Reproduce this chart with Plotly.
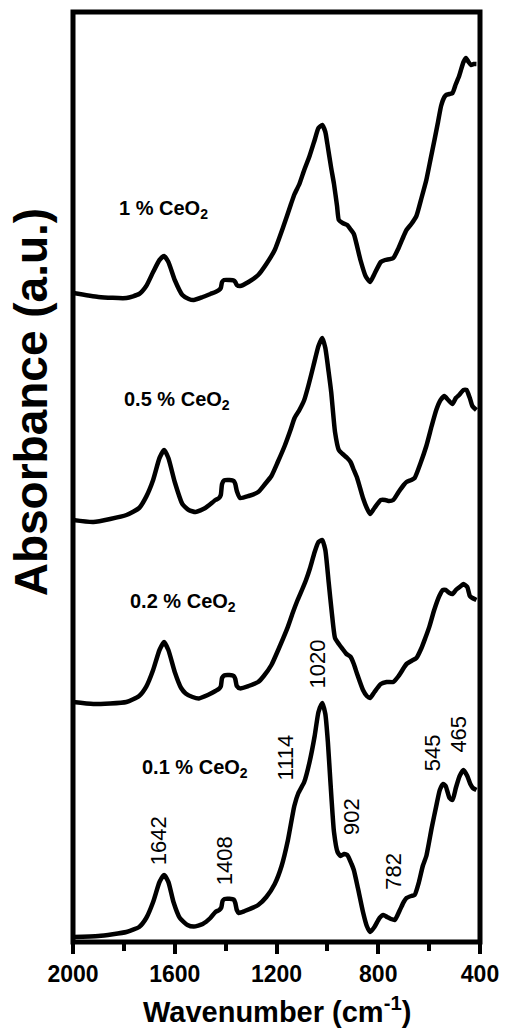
import plotly.graph_objects as go

# FTIR spectra of CeO2-doped samples, stacked vertically (absorbance in a.u.)
wn_01 = [2000, 1900, 1790, 1740, 1712, 1685, 1660, 1642, 1625, 1605, 1580, 1550, 1525, 1490,
         1460, 1440, 1425, 1417, 1412, 1404, 1385, 1368, 1362, 1356, 1348, 1325, 1272, 1240,
         1207, 1180, 1155, 1130, 1114, 1091, 1070, 1050, 1035, 1020, 1008, 998, 988, 974, 960,
         948, 935, 922, 905, 896, 880, 860, 845, 832, 815, 795, 780, 765, 750, 735, 715, 700,
         689, 670, 657, 640, 625, 611, 590, 572, 558, 545, 535, 520, 508, 495, 480, 465, 450,
         438, 428, 414]
abs_01 = [0.025, 0.03, 0.05, 0.075, 0.12, 0.2, 0.3, 0.335, 0.3, 0.2, 0.12, 0.085, 0.077, 0.09,
          0.12, 0.15, 0.16, 0.172, 0.205, 0.215, 0.216, 0.212, 0.195, 0.16, 0.145, 0.155, 0.185,
          0.225, 0.29, 0.38, 0.51, 0.68, 0.745, 0.80, 0.9, 1.03, 1.15, 1.195, 1.14, 1.0, 0.8,
          0.55, 0.45, 0.43, 0.44, 0.435, 0.39, 0.36, 0.27, 0.15, 0.08, 0.05, 0.075, 0.12, 0.135,
          0.125, 0.115, 0.11, 0.16, 0.2, 0.22, 0.23, 0.235, 0.3, 0.38, 0.43, 0.57, 0.68, 0.76,
          0.79, 0.78, 0.72, 0.71, 0.77, 0.83, 0.86, 0.83, 0.79, 0.77, 0.76]

wn_02 = [2000, 1920, 1790, 1740, 1712, 1685, 1660, 1642, 1625, 1600, 1575, 1557, 1530, 1505,
         1470, 1440, 1427, 1419, 1414, 1406, 1385, 1368, 1362, 1356, 1343, 1310, 1272, 1250,
         1220, 1190, 1155, 1135, 1117, 1100, 1084, 1068, 1050, 1035, 1020, 1008, 995, 982, 970,
         955, 940, 925, 909, 896, 883, 860, 845, 832, 815, 790, 767, 741, 720, 700, 689, 670,
         650, 630, 615, 599, 580, 560, 546, 535, 520, 508, 495, 475, 465, 450, 440, 430, 414]
abs_02 = [1.20, 1.19, 1.20, 1.23, 1.277, 1.36, 1.46, 1.50, 1.46, 1.35, 1.27, 1.243, 1.225, 1.218,
          1.235, 1.255, 1.265, 1.278, 1.32, 1.333, 1.335, 1.33, 1.315, 1.28, 1.268, 1.28, 1.30,
          1.33, 1.385, 1.47, 1.577, 1.65, 1.71, 1.76, 1.81, 1.87, 1.95, 2.0, 2.01, 1.96, 1.8,
          1.64, 1.52, 1.49, 1.465, 1.44, 1.426, 1.39, 1.34, 1.26, 1.23, 1.22, 1.25, 1.29, 1.30,
          1.30, 1.33, 1.37, 1.39, 1.405, 1.42, 1.47, 1.52, 1.577, 1.66, 1.73, 1.76, 1.76, 1.745,
          1.74, 1.76, 1.78, 1.79, 1.775, 1.73, 1.72, 1.71]

wn_05 = [2000, 1920, 1790, 1740, 1712, 1685, 1660, 1642, 1625, 1600, 1570, 1545, 1518, 1480,
         1440, 1426, 1419, 1414, 1406, 1385, 1368, 1362, 1356, 1343, 1310, 1272, 1245, 1220,
         1195, 1168, 1145, 1129, 1110, 1091, 1075, 1055, 1035, 1020, 1008, 995, 985, 970, 955,
         940, 922, 909, 896, 883, 860, 845, 832, 815, 790, 773, 760, 741, 720, 700, 689, 670,
         657, 635, 611, 590, 572, 555, 540, 525, 508, 495, 482, 465, 453, 440, 430, 414]
abs_05 = [2.11, 2.10, 2.135, 2.17, 2.227, 2.31, 2.42, 2.46, 2.42, 2.3, 2.19, 2.16, 2.15, 2.17,
          2.21, 2.22, 2.235, 2.29, 2.308, 2.31, 2.305, 2.29, 2.255, 2.22, 2.23, 2.25, 2.29, 2.33,
          2.4, 2.48, 2.56, 2.62, 2.66, 2.71, 2.78, 2.88, 2.98, 3.02, 2.97, 2.85, 2.75, 2.55, 2.46,
          2.44, 2.42, 2.40, 2.36, 2.32, 2.22, 2.17, 2.14, 2.17, 2.21, 2.21, 2.205, 2.21, 2.25,
          2.285, 2.30, 2.31, 2.32, 2.39, 2.48, 2.58, 2.66, 2.71, 2.73, 2.71, 2.69, 2.72, 2.735,
          2.76, 2.76, 2.72, 2.68, 2.66]

wn_1 = [2000, 1900, 1790, 1740, 1712, 1685, 1660, 1642, 1625, 1600, 1570, 1545, 1525, 1490,
        1460, 1440, 1426, 1419, 1414, 1406, 1385, 1368, 1362, 1356, 1343, 1310, 1272, 1240,
        1207, 1175, 1143, 1129, 1110, 1091, 1070, 1050, 1035, 1020, 1008, 1000, 985, 974, 962,
        955, 940, 922, 910, 896, 870, 850, 832, 815, 790, 773, 741, 720, 700, 689, 670, 650,
        630, 611, 595, 579, 565, 553, 540, 533, 520, 508, 495, 482, 465, 455, 445, 435, 425, 414]
abs_1 = [3.245, 3.225, 3.22, 3.24, 3.28, 3.35, 3.41, 3.43, 3.40, 3.31, 3.235, 3.215, 3.21, 3.225,
         3.24, 3.25, 3.26, 3.27, 3.30, 3.31, 3.31, 3.308, 3.30, 3.285, 3.28, 3.30, 3.335, 3.39,
         3.46, 3.57, 3.69, 3.74, 3.79, 3.86, 3.93, 4.01, 4.07, 4.085, 4.05, 3.99, 3.87, 3.79,
         3.68, 3.61, 3.595, 3.585, 3.565, 3.54, 3.41, 3.33, 3.30, 3.34, 3.40, 3.41, 3.42, 3.47,
         3.53, 3.56, 3.59, 3.63, 3.72, 3.81, 3.91, 4.01, 4.10, 4.18, 4.225, 4.235, 4.24, 4.245,
         4.29, 4.33, 4.40, 4.42, 4.40, 4.385, 4.39, 4.39]

series_names = ["0.1 % CeO<sub>2</sub>", "0.2 % CeO<sub>2</sub>",
                "0.5 % CeO<sub>2</sub>", "1 % CeO<sub>2</sub>"]
series_wn = [wn_01, wn_02, wn_05, wn_1]
series_abs = [abs_01, abs_02, abs_05, abs_1]

# where each sample name sits (left edge, vertical middle), in data units
name_pos = [(1738, 0.87), (1785, 1.70), (1808, 2.71), (1828, 3.665)]

# band assignments marked on the 0.1 % spectrum
band_labels = ["1642", "1408", "1114", "1020", "902", "782", "545", "465"]
band_label_pos = [(1664, 0.506), (1405, 0.406), (1165, 0.925), (1039, 1.39),
                  (907, 0.625), (743, 0.355), (588, 0.945), (488, 1.04)]

x_ticks = [2000, 1600, 1200, 800, 400]
x_minor = [1800, 1400, 1000, 600]

FONT = "Liberation Sans, Arial, sans-serif"

fig = go.Figure()
for name, wn, ab in zip(series_names, series_wn, series_abs):
    fig.add_trace(go.Scatter(
        x=wn, y=ab, mode="lines", name=name,
        line=dict(color="black", width=4.5, shape="spline", smoothing=0.5),
        showlegend=False, hoverinfo="skip",
    ))

annotations = []
for name, (x, y) in zip(series_names, name_pos):
    annotations.append(dict(
        x=x, y=y, xref="x", yref="y", text=name, showarrow=False,
        xanchor="left", yanchor="middle",
        font=dict(family=FONT, size=20, color="black", weight="bold"),
    ))
for txt, (x, y) in zip(band_labels, band_label_pos):
    annotations.append(dict(
        x=x, y=y, xref="x", yref="y", text=txt, showarrow=False, textangle=-90,
        xanchor="center", yanchor="middle",
        font=dict(family=FONT, size=22, color="black"),
    ))

# axis titles
annotations.append(dict(
    x=0.5, y=-0.073, xref="paper", yref="paper",
    text="Wavenumber (cm<sup>-1</sup>)", showarrow=False,
    xanchor="center", yanchor="middle",
    font=dict(family=FONT, size=29, color="black", weight="bold"),
))
annotations.append(dict(
    x=-0.104, y=0.581, xref="paper", yref="paper",
    text="Absorbance (a.u.)", showarrow=False, textangle=-90,
    xanchor="center", yanchor="middle",
    font=dict(family=FONT, size=46, color="black", weight="bold"),
))

fig.update_layout(
    width=511, height=1030,
    margin=dict(l=72.7, r=26.6, t=12, b=88),
    paper_bgcolor="white", plot_bgcolor="white",
    annotations=annotations,
    shapes=[dict(type="rect", xref="paper", yref="paper", x0=0, x1=1, y0=0, y1=1,
                 line=dict(color="black", width=5), layer="above")],
    xaxis=dict(
        range=[2000, 400], tickvals=x_ticks, ticktext=[str(t) for t in x_ticks],
        ticks="outside", ticklen=11, tickwidth=4, tickcolor="black",
        minor=dict(tickvals=x_minor, ticks="outside", ticklen=8, tickwidth=4, tickcolor="black"),
        showgrid=False, zeroline=False, showline=False,
        tickfont=dict(family=FONT, size=23, color="black", weight="bold"),
    ),
    yaxis=dict(
        range=[0, 4.65], showticklabels=False, ticks="",
        showgrid=False, zeroline=False, showline=False,
    ),
)

fig.write_html("out.html")
